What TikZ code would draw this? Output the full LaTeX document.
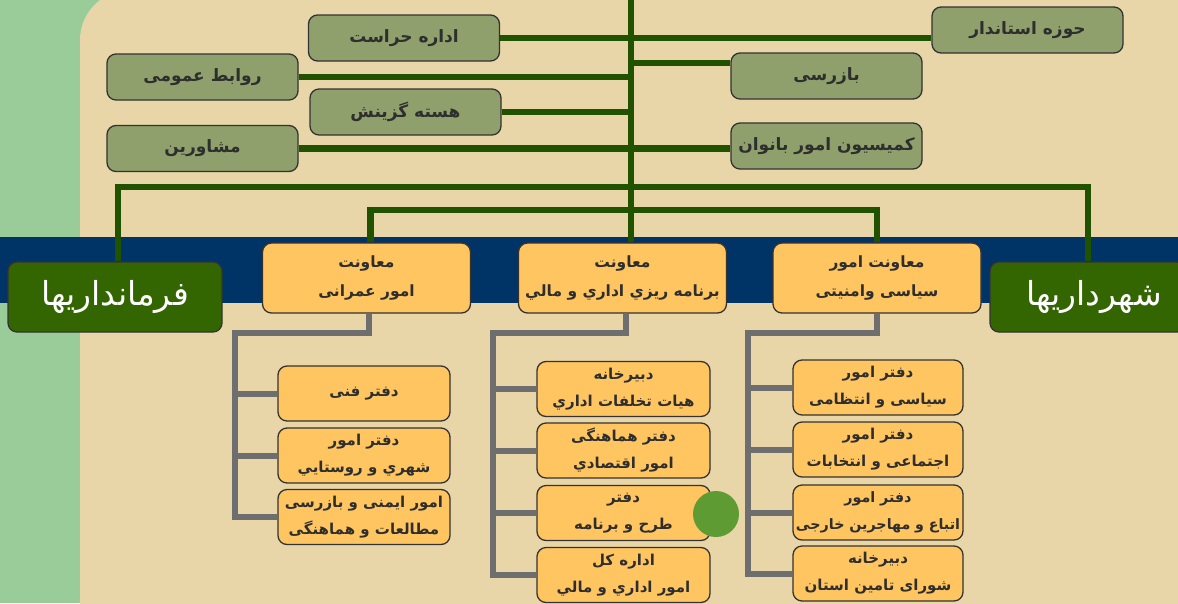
\documentclass[tikz,border=0pt]{standalone}
\usepackage{fontspec}
\TeXXeTstate=1
\newfontfamily\arfont[Script=Arabic]{DejaVu Sans}
\newcommand\rl[1]{\beginR#1\endR}
\definecolor{strip}{HTML}{99CC99}
\definecolor{parch}{HTML}{E8D6A8}
\definecolor{navyband}{HTML}{003366}
\definecolor{dgreen}{HTML}{215200}
\definecolor{olivebox}{HTML}{8FA06C}
\definecolor{orangebox}{HTML}{FFC561}
\definecolor{boxgreen}{HTML}{336600}
\definecolor{conngray}{HTML}{6E6E6E}
\definecolor{dotgreen}{HTML}{5E9B32}
\definecolor{txt}{HTML}{2E2E2E}
\pgfdeclarelayer{bg}
\pgfdeclarelayer{lines}
\pgfsetlayers{bg,lines,main}
\begin{document}
\begin{tikzpicture}[x=1pt,y=-1pt,
 base/.style={draw=black!80, line width=1.3pt, rounded corners=9pt, inner sep=0pt, align=center, text=txt, font=\arfont\bfseries\fontsize{17}{22}\selectfont},
 topbox/.style={base, fill=olivebox, minimum width=191pt, minimum height=46pt},
 headbox/.style={base, fill=orangebox, minimum width=208pt, minimum height=70pt, font=\arfont\bfseries\fontsize{15.5}{29}\selectfont},
 subbox/.style={base, fill=orangebox, minimum width=172pt, minimum height=55pt, font=\arfont\bfseries\fontsize{15}{27}\selectfont},
 bigbox/.style={base, fill=boxgreen, text=white, minimum height=70pt, font=\arfont\fontsize{33}{36}\selectfont},
 gline/.style={draw=dgreen, line width=6.5pt},
 cline/.style={draw=conngray, line width=6pt}]
\clip (0,0) rectangle (1178,603);
\useasboundingbox (0,0) rectangle (1178,603);
% top boxes
\node[topbox] (hr) at (404,38) {\rl{اداره حراست}};
\node[topbox] (hoze) at (1027.5,30) {\rl{حوزه استاندار}};
\node[topbox] (ravabet) at (202.5,77) {\rl{روابط عمومی}};
\node[topbox] (bazrasi) at (826.5,76) {\rl{بازرسی}};
\node[topbox] (hasteh) at (405.5,112) {\rl{هسته گزینش}};
\node[topbox] (moshaverin) at (202.5,148.5) {\rl{مشاورین}};
\node[topbox] (komision) at (826.5,146) {\rl{کمیسیون امور بانوان}};
% middle row
\node[bigbox, minimum width=214pt] (farman) at (115,297) {\rl{فرمانداریها}};
\node[bigbox, minimum width=196pt] (shahr) at (1088,297) {\hspace*{12pt}\rl{شهرداریها}};
\node[headbox] (omrani) at (366.5,278) {\rl{معاونت}\\\rl{امور عمرانی}};
\node[headbox] (barnameh) at (622.5,278) {\rl{معاونت}\\\rl{برنامه ريزي اداري و مالي}};
\node[headbox] (siasi) at (877,278) {\rl{معاونت امور}\\\rl{سیاسی وامنیتی}};
% sub boxes
\node[subbox] (l1) at (364,393.5) {\rl{دفتر فنی}};
\node[subbox] (l2) at (364,455.5) {\rl{دفتر امور}\\\rl{شهري و روستايي}};
\node[subbox] (l3) at (364,517) {\rl{امور ایمنی و بازرسی}\\\rl{مطالعات و هماهنگی}};
\node[subbox, minimum width=173pt] (m1) at (623.5,389) {\rl{دبیرخانه}\\\rl{هیات تخلفات اداري}};
\node[subbox, minimum width=173pt] (m2) at (623.5,450.5) {\rl{دفتر هماهنگی}\\\rl{امور اقتصادي}};
\node[subbox, minimum width=173pt] (m3) at (623.5,513) {\rl{دفتر}\\\rl{طرح و برنامه}};
\node[subbox, minimum width=173pt] (m4) at (623.5,575) {\rl{اداره کل}\\\rl{امور اداري و مالي}};
\node[subbox, minimum width=170pt] (r1) at (878,387.5) {\rl{دفتر امور}\\\rl{سیاسی و انتظامی}};
\node[subbox, minimum width=170pt] (r2) at (878,449.5) {\rl{دفتر امور}\\\rl{اجتماعی و انتخابات}};
\node[subbox, minimum width=170pt, text width=166pt, font=\arfont\bfseries\fontsize{14.3}{27}\selectfont] (r3) at (878,512.5) {\rl{دفتر امور}\\\rl{اتباع و مهاجرین خارجی}};
\node[subbox, minimum width=170pt] (r4) at (878,573.5) {\rl{دبیرخانه}\\\rl{شورای تامین استان}};
\node[circle, fill=dotgreen, minimum size=46pt, inner sep=0pt] (dot) at (716,514) {};
% coordinates
\coordinate (ttop) at (631,0);
\coordinate (bus1) at (631,187);
\coordinate (bus2) at (631,210);
\coordinate (lc) at (235,333);
\coordinate (mc) at (493,333);
\coordinate (rc) at (748,333);
\begin{pgfonlayer}{bg}
\fill[strip] (0,0) rectangle (1178,603);
\fill[parch, rounded corners=50pt] (80,-10) rectangle (1300,700);
\fill[navyband] (0,237) rectangle (1178,303);
\end{pgfonlayer}
\begin{pgfonlayer}{lines}
\draw[gline] (ttop) -- (ttop |- barnameh.north);
\draw[gline] (hr.east) -- (hoze.west |- hr.east);
\draw[gline] (ravabet.east) -- (ttop |- ravabet.east);
\draw[gline] (ttop |- 0,63) -- (bazrasi.west |- 0,63);
\draw[gline] (hasteh.east) -- (ttop |- hasteh.east);
\draw[gline] (moshaverin.east) -- (komision.west |- moshaverin.east);
\draw[gline] ([xshift=3pt]farman.north) |- (bus1) -| (shahr.north);
\draw[gline] ([xshift=4pt]omrani.north) |- (bus2) -| (siasi.north);
\draw[cline] ([xshift=2pt]omrani.south) |- (lc) |- (l3.west);
\draw[cline] (lc |- l1.west) -- (l1.west);
\draw[cline] (lc |- l2.west) -- (l2.west);
\draw[cline] ([xshift=3pt]barnameh.south) |- (mc) |- (m4.west);
\draw[cline] (mc |- m1.west) -- (m1.west);
\draw[cline] (mc |- m2.west) -- (m2.west);
\draw[cline] (mc |- m3.west) -- (m3.west);
\draw[cline] (siasi.south) |- (rc) |- (r4.west);
\draw[cline] (rc |- r1.west) -- (r1.west);
\draw[cline] (rc |- r2.west) -- (r2.west);
\draw[cline] (rc |- r3.west) -- (r3.west);
\end{pgfonlayer}
\end{tikzpicture}
\end{document}
